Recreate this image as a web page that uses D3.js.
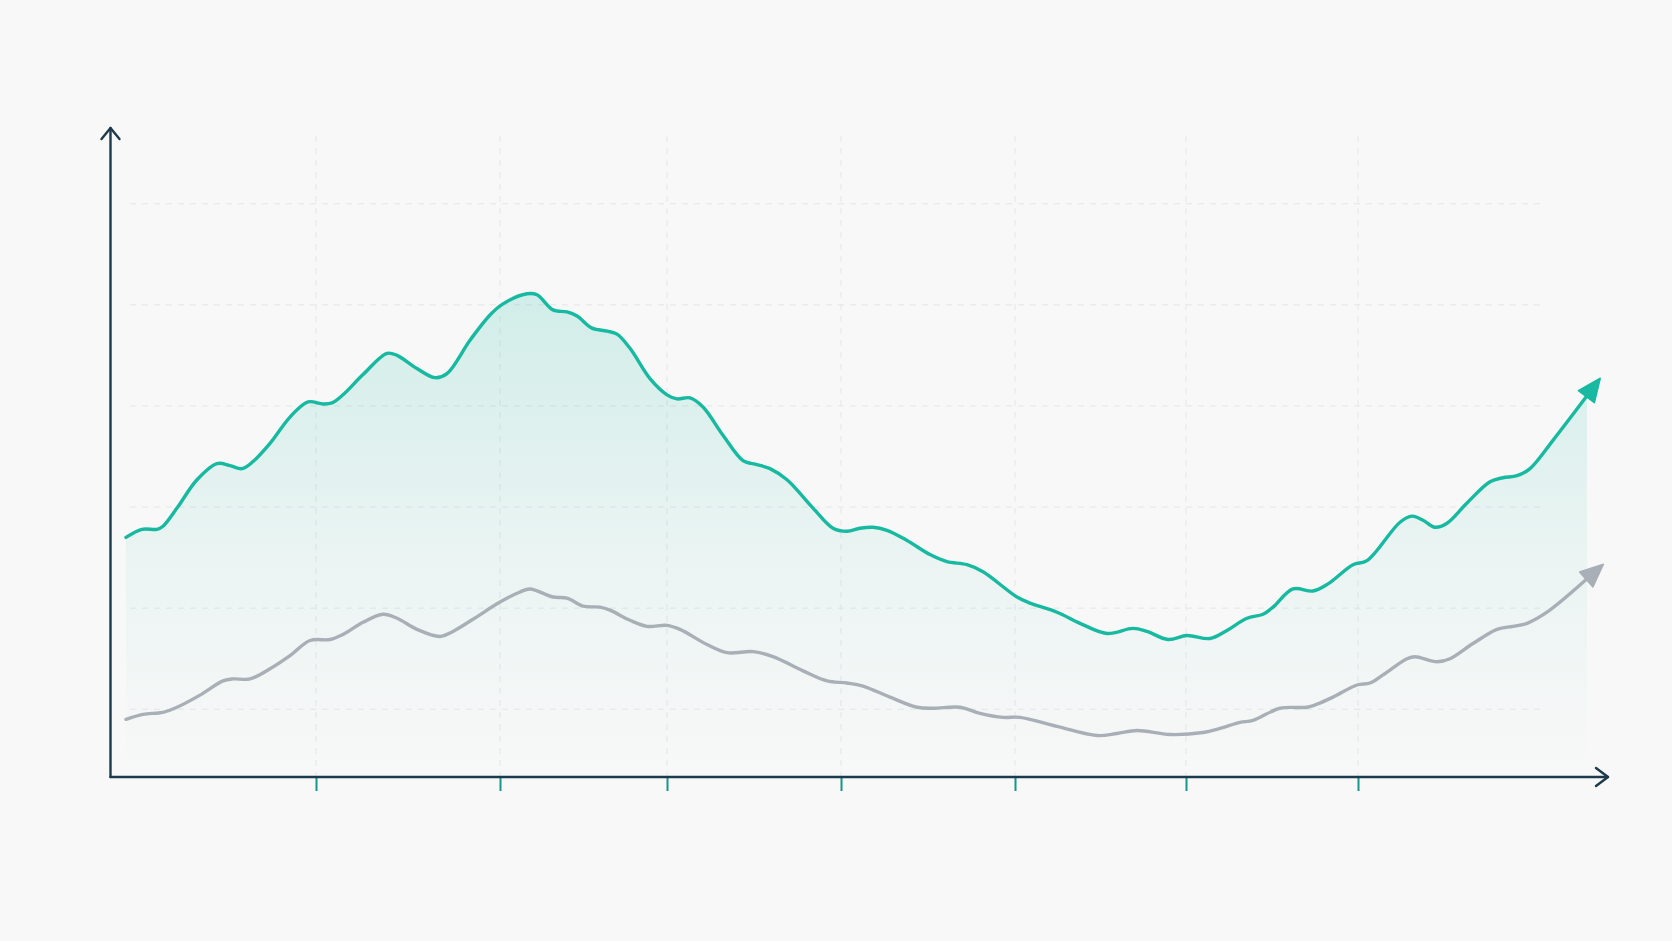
<!DOCTYPE html>
<html>
<head>
<meta charset="utf-8">
<script src="https://cdn.jsdelivr.net/npm/d3@7"></script>
<style>
  html, body { margin: 0; padding: 0; background: #f8f8f8; }
  svg { display: block; }
</style>
</head>
<body>
<svg id="chart" width="1672" height="941"></svg>
<script>
// ---- data ----
const primaryX = [0,16,31,37,51,71,91,104,116,127,144,164,182,197,206,217,237,261,271,291,309,321,344,364,377,401,411,427,441,451,466,481,491,504,524,541,551,564,577,597,617,631,644,661,687,707,721,734,747,761,781,804,821,841,857,891,904,931,954,981,1007,1021,1042,1061,1084,1101,1121,1137,1147,1167,1187,1202,1227,1241,1274,1286,1297,1309,1321,1341,1364,1377,1391,1404,1427,1461];
const primaryY = [27.0,27.8,27.8,28.1,29.9,32.7,34.3,34.1,33.8,34.5,36.3,38.9,40.4,40.2,40.3,41.1,43.1,45.2,45.0,43.7,42.8,43.2,46.5,49.0,50.1,51.1,51.0,49.5,49.3,48.9,47.7,47.4,47.1,45.7,42.7,41.1,40.7,40.8,39.9,37.1,34.6,34.2,33.8,32.7,29.9,27.9,27.6,27.9,28.0,27.7,26.7,25.3,24.6,24.3,23.6,21.1,20.5,19.6,18.5,17.5,18.0,17.7,16.9,17.3,17.0,17.8,19.0,19.4,20.1,21.9,21.7,22.4,24.3,24.7,28.5,29.1,28.7,28.0,28.4,30.4,32.5,32.9,33.1,33.8,36.6,41.0];

const secondaryX = [0,17,37,51,74,97,107,124,144,164,184,204,217,237,257,271,291,314,327,347,374,394,404,427,441,457,474,484,504,521,541,554,581,601,627,647,677,701,721,737,764,791,807,834,854,877,894,931,971,991,1011,1044,1077,1094,1114,1127,1154,1181,1191,1207,1231,1244,1257,1281,1289,1311,1324,1347,1371,1387,1401,1421,1461];
const secondaryY = [9.0,9.5,9.7,10.2,11.4,12.8,13.0,13.0,14.0,15.3,16.8,16.9,17.4,18.6,19.4,19.0,17.9,17.2,17.7,18.9,20.6,21.6,21.9,21.1,21.0,20.2,20.1,19.8,18.8,18.2,18.3,17.9,16.4,15.6,15.7,15.2,13.8,12.8,12.6,12.3,11.2,10.2,10.1,10.2,9.6,9.2,9.2,8.3,7.4,7.6,7.9,7.5,7.7,8.1,8.7,8.9,10.1,10.2,10.5,11.2,12.4,12.6,13.4,15.0,15.2,14.7,15.0,16.5,17.9,18.2,18.5,19.6,22.9];

const xTickValues = [190, 374, 541, 715, 889, 1060, 1232];
const yGridValues = [10, 20, 30, 40, 50, 60];

// ---- layout ----
const axisX = 110.5, axisY = 777, plotTop = 136;
const xArrowEnd = 1608, yArrowEnd = 128;
const colors = { teal: "#17b9a1", gray: "#a9afb6", axis: "#1d3a4d", tick: "#15978a", grid: "#e4e6e7" };

const svg = d3.select("#chart");
const x = d3.scaleLinear().domain([0, 1461]).range([126, 1587]);
const y = d3.scaleLinear().domain([3.3, 66.7]).range([axisY, plotTop]);

const primary = primaryX.map((d, i) => ({ x: d, y: primaryY[i] }));
const secondary = secondaryX.map((d, i) => ({ x: d, y: secondaryY[i] }));

// defs
const defs = svg.append("defs");
const grad = defs.append("linearGradient")
  .attr("id", "fillGrad").attr("gradientUnits", "userSpaceOnUse")
  .attr("x1", 0).attr("x2", 0).attr("y1", y(d3.max(primaryY))).attr("y2", axisY);
grad.append("stop").attr("offset", "0%").attr("stop-color", colors.teal).attr("stop-opacity", 0.17);
grad.append("stop").attr("offset", "55%").attr("stop-color", colors.teal).attr("stop-opacity", 0.06);
grad.append("stop").attr("offset", "100%").attr("stop-color", colors.teal).attr("stop-opacity", 0.0);

function marker(id, color) {
  defs.append("marker")
    .attr("id", id).attr("markerUnits", "userSpaceOnUse")
    .attr("viewBox", "-2 -13 30 26").attr("markerWidth", 30).attr("markerHeight", 26)
    .attr("refX", 1).attr("refY", 0).attr("orient", "auto")
    .append("path").attr("d", "M0,-10 L23,0 L0,10 Z")
    .attr("fill", color).attr("stroke", color).attr("stroke-width", 1.5).attr("stroke-linejoin", "round");
}
marker("arrowTeal", colors.teal);
marker("arrowGray", colors.gray);

// grid
const grid = svg.append("g");
grid.selectAll("line.h").data(yGridValues).join("line")
  .attr("x1", 130).attr("x2", 1545)
  .attr("y1", d => y(d)).attr("y2", d => y(d))
  .attr("stroke", colors.grid).attr("stroke-width", 1).attr("stroke-dasharray", "6,6");
grid.selectAll("line.v").data(xTickValues).join("line")
  .attr("x1", d => x(d)).attr("x2", d => x(d))
  .attr("y1", plotTop).attr("y2", axisY)
  .attr("stroke", colors.grid).attr("stroke-width", 1).attr("stroke-dasharray", "6,6");

const curve = d3.curveCatmullRom.alpha(0.5);

// area fill under primary series
svg.append("path").datum(primary)
  .attr("d", d3.area().x(d => x(d.x)).y0(axisY).y1(d => y(d.y)).curve(curve))
  .attr("fill", "url(#fillGrad)");

// lines
const line = d3.line().x(d => x(d.x)).y(d => y(d.y)).curve(curve);
svg.append("path").datum(secondary).attr("d", line)
  .attr("fill", "none").attr("stroke", colors.gray).attr("stroke-width", 3.4)
  .attr("stroke-linecap", "round").attr("stroke-linejoin", "round")
  .attr("marker-end", "url(#arrowGray)");
svg.append("path").datum(primary).attr("d", line)
  .attr("fill", "none").attr("stroke", colors.teal).attr("stroke-width", 3.4)
  .attr("stroke-linecap", "round").attr("stroke-linejoin", "round")
  .attr("marker-end", "url(#arrowTeal)");

// x ticks
const xAxis = d3.axisBottom(x).tickValues(xTickValues).tickSize(14).tickFormat("");
const gx = svg.append("g").attr("transform", `translate(0,${axisY})`).call(xAxis);
gx.select(".domain").remove();
gx.selectAll(".tick line").attr("stroke", colors.tick).attr("stroke-width", 2);

// axes lines with open arrows
const ax = svg.append("g").attr("fill", "none").attr("stroke", colors.axis)
  .attr("stroke-width", 2.4).attr("stroke-linecap", "round").attr("stroke-linejoin", "round");
ax.append("path").attr("d", `M${axisX},${axisY} L${axisX},${yArrowEnd}`);
ax.append("path").attr("d", `M${axisX - 9},${yArrowEnd + 11} L${axisX},${yArrowEnd} L${axisX + 9},${yArrowEnd + 11}`);
ax.append("path").attr("d", `M${axisX},${axisY} L${xArrowEnd},${axisY}`);
ax.append("path").attr("d", `M${xArrowEnd - 12},${axisY - 9} L${xArrowEnd},${axisY} L${xArrowEnd - 12},${axisY + 9}`);
</script>
</body>
</html>
